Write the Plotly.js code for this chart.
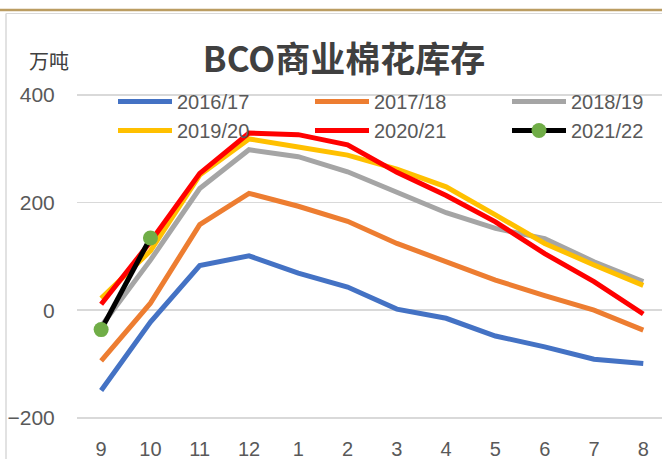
<!DOCTYPE html>
<html>
<head>
<meta charset="utf-8">
<script src="https://cdn.plot.ly/plotly-3.0.1.min.js"></script>
<style>
  html, body { margin: 0; padding: 0; background: #fff; }
  #chart { width: 662px; height: 459px; }
</style>
</head>
<body>
<div id="chart"></div>
<script>
// months of the cotton year, Sept -> Aug
const months = ["9", "10", "11", "12", "1", "2", "3", "4", "5", "6", "7", "8"];

// BCO commercial cotton stocks, 10k tonnes
const s1617 = [-149, -22, 83, 101, 69, 43, 2, -15, -48, -68, -91, -99];
const s1718 = [-94, 13, 159, 217, 193, 165, 124, 90, 56, 27, 0, -37];
const s1819 = [-30, 93, 226, 298, 285, 257, 219, 181, 152, 133, 90, 53];
const s1920 = [22, 110, 251, 318, 303, 288, 262, 229, 177, 124, 84, 46];
const s2021 = [11, 127, 254, 329, 326, 307, 256, 213, 164, 105, 53, -7];
const s2122 = [-36, 134];

const seasons = ["2016/17", "2017/18", "2018/19", "2019/20", "2020/21", "2021/22"];

const W = 662, H = 459;
const M = { l: 77, r: 0, t: 84, b: 33 };
const plotW = W - M.l - M.r, plotH = H - M.t - M.b;
// pixel -> paper helpers, only for placing legends / frame decoration
const px = (x) => (x - M.l) / plotW;
const py = (y) => (H - M.b - y) / plotH;

const txt = "#595959";
const font = "Liberation Sans, Arial, sans-serif";

function line(name, y, color, legend) {
    return {
        type: "scatter", mode: "lines", name: name,
        x: months.slice(0, y.length), y: y,
        line: { color: color, width: 5 },
        legend: legend
    };
}

const traces = [
    line(seasons[0], s1617, "#4472c4", "legend"),
    line(seasons[1], s1718, "#ed7d31", "legend2"),
    line(seasons[2], s1819, "#a5a5a5", "legend3"),
    line(seasons[3], s1920, "#ffc000", "legend"),
    line(seasons[4], s2021, "#ff0000", "legend2"),
    {
        type: "scatter", mode: "lines+markers", name: seasons[5],
        x: months.slice(0, s2122.length), y: s2122,
        line: { color: "#000000", width: 5 },
        marker: { color: "#70ad47", size: 15 },
        legend: "legend3"
    }
];

// three vertical legends side by side = the 3-column legend of the original
function legendAt(xpix) {
    return {
        x: px(xpix), xanchor: "left",
        y: py(82), yanchor: "top",
        orientation: "v",
        bgcolor: "rgba(0,0,0,0)",
        itemwidth: 54,
        font: { family: font, size: 20, color: txt }
    };
}

const layout = {
    width: W, height: H,
    margin: M,
    paper_bgcolor: "#ffffff",
    plot_bgcolor: "#ffffff",
    showlegend: true,
    title: {
        text: "<b>BCO商业棉花库存</b>",
        xref: "container", yref: "container",
        x: 344 / W, xanchor: "center",
        y: 1 - 60 / H, yanchor: "middle",
        font: { family: "Noto Sans CJK SC, sans-serif", size: 35, color: "#404040" }
    },
    xaxis: {
        type: "category",
        range: [-0.49, 11.38],
        showgrid: false, zeroline: false, showline: false,
        ticks: "outside", ticklen: 5, tickcolor: "rgba(0,0,0,0)",
        tickfont: { family: font, size: 20, color: txt }
    },
    yaxis: {
        range: [-215, 420],
        tickvals: [-200, 0, 200, 400],
        showgrid: true, gridcolor: "#d9d9d9", gridwidth: 1.5,
        zeroline: false, showline: false,
        ticks: "outside", ticklen: 17, tickcolor: "rgba(0,0,0,0)",
        tickfont: { family: font, size: 21, color: txt }
    },
    legend: legendAt(113),
    legend2: legendAt(310),
    legend3: legendAt(507),
    annotations: [{
        text: "万吨",
        xref: "paper", yref: "paper",
        x: px(49), y: py(60), xanchor: "center", yanchor: "middle",
        showarrow: false,
        font: { family: "Noto Sans CJK SC, sans-serif", size: 20, color: "#404040" }
    }],
    shapes: [
        { type: "line", xref: "paper", yref: "paper", x0: px(0), x1: px(W), y0: py(10), y1: py(10),
          line: { color: "#bb9d62", width: 2.5 } },
        { type: "line", xref: "paper", yref: "paper", x0: px(6), x1: px(W), y0: py(13.5), y1: py(13.5),
          line: { color: "#d9d9d9", width: 1 } },
        { type: "line", xref: "paper", yref: "paper", x0: px(6), x1: px(6), y0: py(13.5), y1: py(H),
          line: { color: "#d9d9d9", width: 1.5 } }
    ]
};

Plotly.newPlot("chart", traces, layout, { displayModeBar: false, staticPlot: true });
</script>
</body>
</html>
